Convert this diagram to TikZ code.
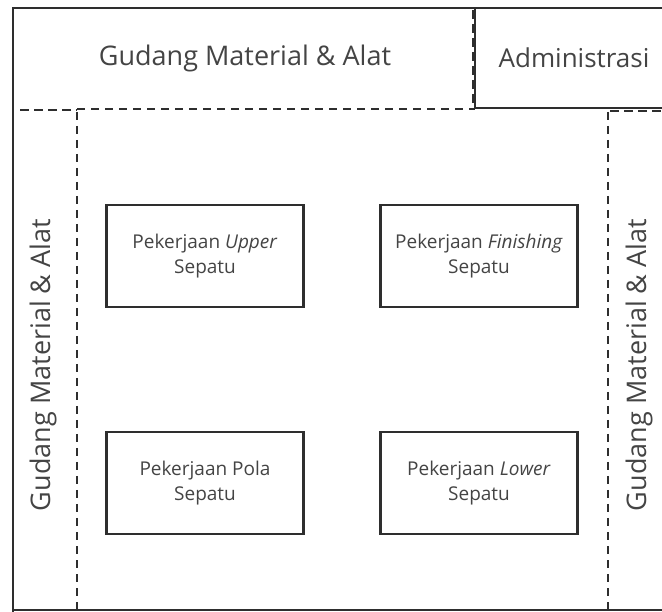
\documentclass[tikz,border=0pt]{standalone}
\usepackage{fontspec}
\setmainfont{Open Sans}
\definecolor{txt}{HTML}{444444}
\definecolor{ln}{HTML}{2E2E2E}
\begin{document}
\begin{tikzpicture}[x=1pt,y=-1pt,
  wall/.style={draw=ln,line width=2.4pt},
  dash line/.style={draw=ln,line width=2pt,dash pattern=on 8pt off 6pt},
  thick dash/.style={draw=ln,line width=2.8pt,dash pattern=on 9pt off 5pt},
  area/.style={text=txt,font=\fontsize{27}{32}\selectfont},
  work/.style={draw=ln,line width=2.6pt,minimum width=197pt,minimum height=102pt,
    text=txt,align=center,font=\fontsize{19}{25}\selectfont,inner sep=0pt}]
\useasboundingbox (0,0) rectangle (662,612);
% outer walls
\draw[wall] (662,8) -- (13,8) -- (13,612);
\draw[wall] (13,610) -- (662,610);
% administrasi box
\draw[wall] (475,8) -- (475,108) -- (662,108);
\draw[thick dash] (473,10) -- (473,108);
% dashed partitions
\draw[thick dash] (20,110) -- (77,110);
\draw[dash line] (77,109) -- (475,109);
\draw[thick dash] (610,111) -- (662,111);
\draw[dash line] (77,112) -- (77,612);
\draw[dash line] (608,112) -- (608,612);
% labels
\node[area] (gtop) at (245,58) {Gudang Material \& Alat};
\node[area,font=\fontsize{26}{32}\selectfont] (adm) at (574,58) {Administrasi};
\node[area,rotate=90] (gleft) at (43,365) {Gudang Material \& Alat};
\node[area,rotate=90] (gright) at (639,365) {Gudang Material \& Alat};
% work boxes
\node[work] (upper) at (205,256) {Pekerjaan \textit{Upper}\\Sepatu};
\node[work] (finish) at (479,256) {Pekerjaan \textit{Finishing}\\Sepatu};
\node[work] (pola) at (205,483) {Pekerjaan Pola\\Sepatu};
\node[work] (lower) at (479,483) {Pekerjaan \textit{Lower}\\Sepatu};
\end{tikzpicture}
\end{document}
